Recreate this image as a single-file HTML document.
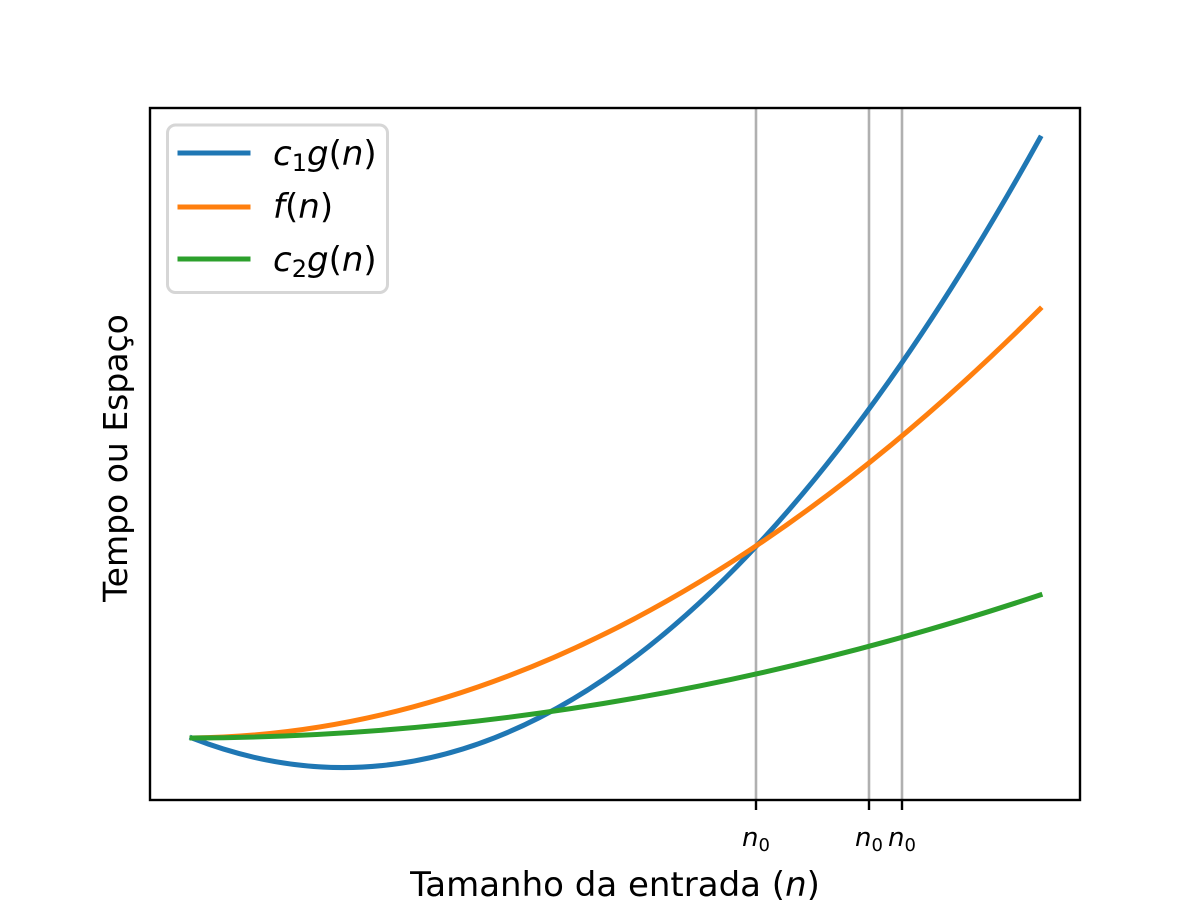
<!DOCTYPE html>
<html><head><meta charset="utf-8"><style>
html,body{margin:0;padding:0;background:#fff;}
svg{display:block;}
text{font-family:"DejaVu Sans","Liberation Sans",sans-serif;fill:#000;}
</style></head><body>
<svg width="1200" height="900" viewBox="0 0 1200 900" xmlns="http://www.w3.org/2000/svg">
<rect x="0" y="0" width="1200" height="900" fill="#fff"/>
<!-- vertical lines -->
<g stroke="#b0b0b0" stroke-width="2.6">
<line x1="756" y1="108" x2="756" y2="800"/>
<line x1="869" y1="108" x2="869" y2="800"/>
<line x1="902" y1="108" x2="902" y2="800"/>
</g>
<!-- curves -->
<g fill="none" stroke-width="5" stroke-linecap="square">
<path d="M192,738 Q616,904 1040,138" stroke="#1f77b4"/>
<path d="M192,738 Q616,733 1040,309" stroke="#ff7f0e"/>
<path d="M192,738 Q616,736.3 1040,595" stroke="#2ca02c"/>
</g>
<!-- axes frame -->
<rect x="150" y="108" width="930" height="692" fill="none" stroke="#000" stroke-width="2.4"/>
<!-- ticks -->
<g stroke="#000" stroke-width="2.4">
<line x1="756" y1="800" x2="756" y2="810"/>
<line x1="869" y1="800" x2="869" y2="810"/>
<line x1="902" y1="800" x2="902" y2="810"/>
</g>
<g font-size="26" text-anchor="middle">
<text x="756" y="846"><tspan font-style="italic">n</tspan><tspan font-size="18" dy="5">0</tspan></text>
<text x="869" y="846"><tspan font-style="italic">n</tspan><tspan font-size="18" dy="5">0</tspan></text>
<text x="902" y="846"><tspan font-style="italic">n</tspan><tspan font-size="18" dy="5">0</tspan></text>
</g>
<!-- axis labels -->
<text x="615" y="896" font-size="34" text-anchor="middle">Tamanho da entrada (<tspan font-style="italic">n</tspan>)</text>
<text transform="translate(127,458) rotate(-90)" font-size="33" text-anchor="middle">Tempo ou Espaço</text>
<!-- legend -->
<rect x="167.5" y="125" width="220" height="167.5" rx="8" ry="8" fill="#fff" stroke="#d6d6d6" stroke-width="3"/>
<g stroke-width="5" stroke-linecap="square">
<line x1="180" y1="153" x2="248" y2="153" stroke="#1f77b4"/>
<line x1="180" y1="207" x2="248" y2="207" stroke="#ff7f0e"/>
<line x1="180" y1="259" x2="248" y2="259" stroke="#2ca02c"/>
</g>
<g font-size="34">
<text x="273" y="165"><tspan font-style="italic">c</tspan><tspan font-size="24" dy="6">1</tspan><tspan font-style="italic" dy="-6">g</tspan>(<tspan font-style="italic">n</tspan>)</text>
<text x="273" y="218"><tspan font-style="italic">f</tspan>(<tspan font-style="italic">n</tspan>)</text>
<text x="273" y="271"><tspan font-style="italic">c</tspan><tspan font-size="24" dy="6">2</tspan><tspan font-style="italic" dy="-6">g</tspan>(<tspan font-style="italic">n</tspan>)</text>
</g>
</svg>
</body></html>
